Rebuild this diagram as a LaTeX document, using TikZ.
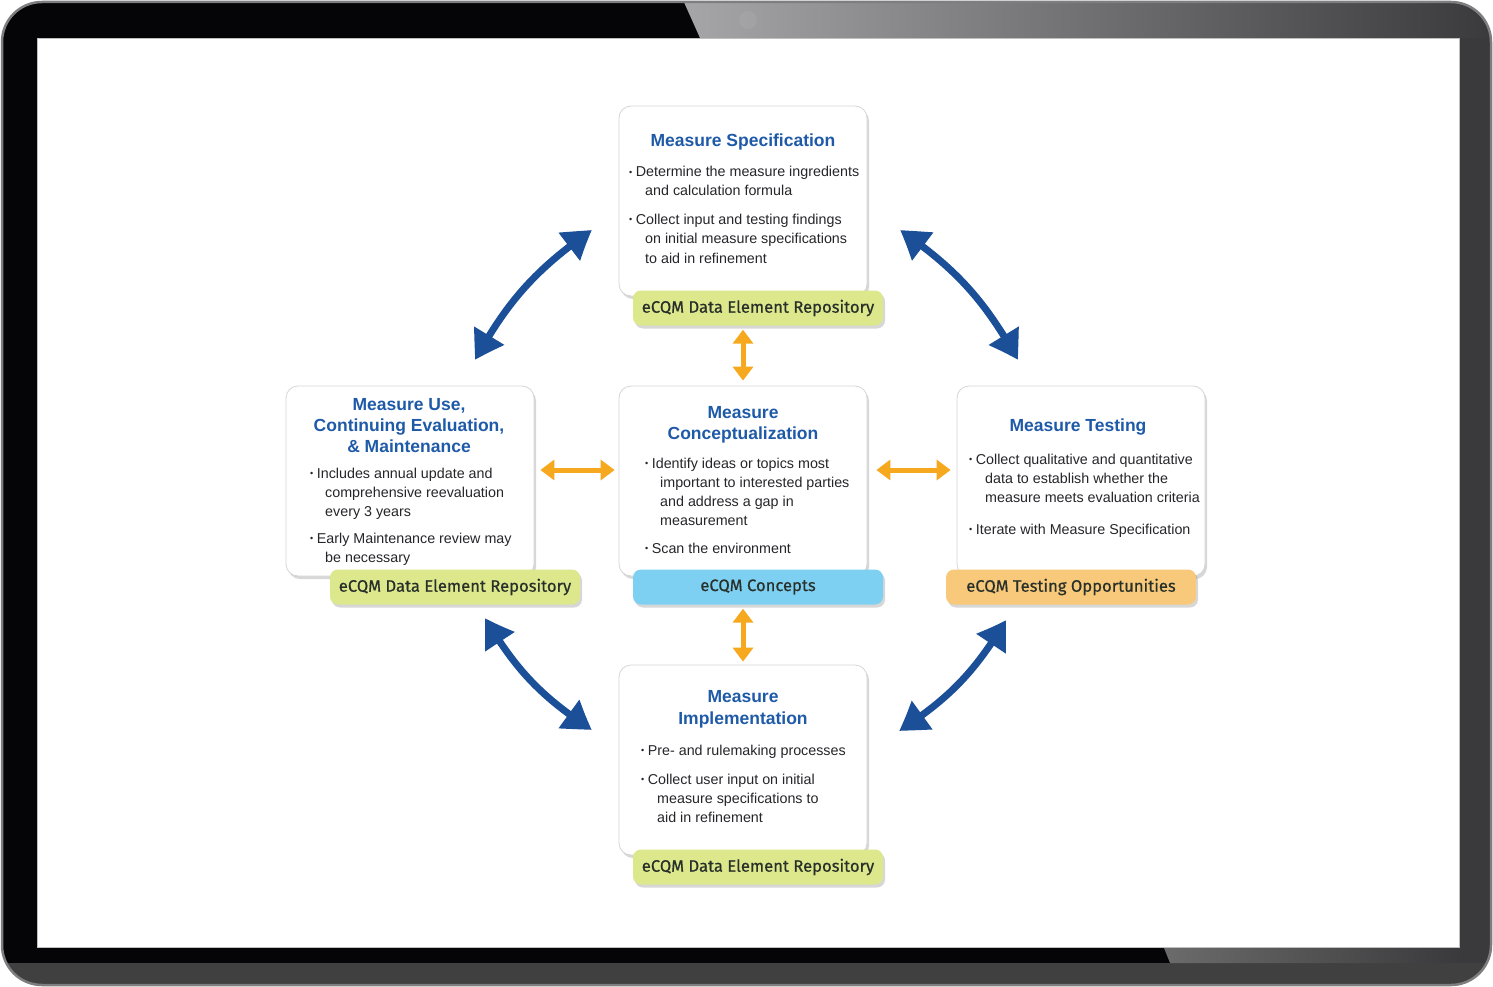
\documentclass[tikz,border=0pt]{standalone}
\usepackage{fontspec}
\setmainfont{Liberation Sans}
\newfontfamily\tagfont{Fira Sans}[FakeBold=0.6]
\usetikzlibrary{arrows.meta,shadows,calc,bending}
\definecolor{titleblue}{HTML}{1E5AA8}
\definecolor{bodytext}{HTML}{26262A}
\definecolor{cardline}{HTML}{D6D6D6}
\definecolor{taggreen}{HTML}{DDE78C}
\definecolor{tagblue}{HTML}{7ED0F3}
\definecolor{tagorange}{HTML}{F8C97A}
\definecolor{tagtext}{HTML}{28302A}
\definecolor{arrowblue}{HTML}{1B4F98}
\definecolor{arroworange}{HTML}{F6A81E}
\definecolor{framedark}{HTML}{050507}
\definecolor{frameright}{HTML}{3A3A3C}
\definecolor{framebottom}{HTML}{404040}
\definecolor{frameedge}{HTML}{7E7E80}
\definecolor{topleft}{HTML}{A6A6A8}
\newcommand\bul{\raisebox{0.15ex}{\fontsize{9}{9}\selectfont •}\hspace{3.5pt}}
\begin{document}
\begin{tikzpicture}[x=1pt,y=-1pt,
  card/.style={draw=cardline, line width=0.8pt, fill=white, rounded corners=12pt,
    minimum width=248pt, minimum height=190pt, inner sep=0pt,
    drop shadow={shadow xshift=2pt, shadow yshift=-3pt, opacity=0.22, fill=black!70}},
  tagbox/.style={rounded corners=8pt, minimum width=250pt, minimum height=35pt, inner sep=0pt,
    font=\tagfont\fontsize{16.6}{19}\selectfont, text=tagtext,
    drop shadow={shadow xshift=2pt, shadow yshift=-3pt, opacity=0.22, fill=black!70}},
  ttl/.style={font=\bfseries\fontsize{17.5}{21}\selectfont, text=titleblue, anchor=base, inner sep=0pt},
  txt/.style={font=\fontsize{14.3}{19}\selectfont, text=bodytext, anchor=base west, inner sep=0pt},
  bluearrow/.style={draw=arrowblue, line width=7pt,
    {Triangle[length=29pt,width=33pt,bend]}-{Triangle[length=29pt,width=33pt,bend]}},
  orangearrow/.style={draw=arroworange, line width=5pt,
    {Triangle[length=14pt,width=20pt]}-{Triangle[length=14pt,width=20pt]}},
]
\useasboundingbox (0,0) rectangle (1493,987);
% ---------- device frame ----------
\begin{scope}
  \clip[rounded corners=40pt] (2,2) rectangle (1491,985);
  \fill[framedark] (0,0) rectangle (1493,987);
  \shade[left color=topleft, right color=frameright] (683,0) -- (1493,0) -- (1493,38) -- (700,38) -- cycle;
  \fill[frameright] (1459,38) rectangle (1493,987);
  \fill[framebottom] (0,963) rectangle (1493,987);
  \shade[left color=black!58, right color=frameright] (1164,948) -- (1459,948) -- (1459,963) -- (1170,963) -- cycle;
  \fill[white, opacity=0.06] (748,20) circle (9);
\end{scope}
\draw[frameedge, line width=2.5pt, rounded corners=40pt] (2,2) rectangle (1491,985);
\fill[white] (37,38) rectangle (1459,947);
\draw[black!25, line width=0.6pt] (37,38) rectangle (1459,947);
% ---------- cards ----------
\node[card] (spec) at (743,201) {};
\node[card] (concept) at (743,481) {};
\node[card] (use) at (410,481) {};
\node[card] (test) at (1081,481) {};
\node[card] (impl) at (743,760) {};
% ---------- tags ----------
\node[tagbox, fill=taggreen] (spectag) at (758,308) {eCQM Data Element Repository};
\node[tagbox, fill=tagblue] (concepttag) at (758,587) {eCQM Concepts};
\node[tagbox, fill=taggreen] (usetag) at (455,587) {eCQM Data Element Repository};
\node[tagbox, fill=tagorange] (testtag) at (1071,587) {eCQM Testing Opportunities};
\node[tagbox, fill=taggreen] (impltag) at (758,867) {eCQM Data Element Repository};
% ---------- Measure Specification ----------
\node[ttl] (specT) at (743,147) {Measure Specification};
\node[txt] (spec1) at (629,177) {\bul Determine the measure ingredients};
\node[txt] (spec2) at (645,196) {and calculation formula};
\node[txt] (spec3) at (629,224) {\bul Collect input and testing findings};
\node[txt] (spec4) at (645,243) {on initial measure specifications};
\node[txt] (spec5) at (645,263) {to aid in refinement};
% ---------- Measure Conceptualization ----------
\node[ttl] (conT1) at (743,418) {Measure};
\node[ttl] (conT2) at (743,439) {Conceptualization};
\node[txt] (con1) at (645,468) {\bul Identify ideas or topics most};
\node[txt] (con2) at (660,487) {important to interested parties};
\node[txt] (con3) at (660,506) {and address a gap in};
\node[txt] (con4) at (660,525) {measurement};
\node[txt] (con5) at (645,553) {\bul Scan the environment};
% ---------- Measure Use ----------
\node[ttl] (useT1) at (409,410) {Measure Use,};
\node[ttl] (useT2) at (409,431) {Continuing Evaluation,};
\node[ttl] (useT3) at (409,452) {\& Maintenance};
\node[txt] (use1) at (310,478) {\bul Includes annual update and};
\node[txt] (use2) at (325,497) {comprehensive reevaluation};
\node[txt] (use3) at (325,516) {every 3 years};
\node[txt] (use4) at (310,543) {\bul Early Maintenance review may};
\node[txt] (use5) at (325,562) {be necessary};
% ---------- Measure Testing ----------
\node[ttl] (testT) at (1078,431) {Measure Testing};
\node[txt] (test1) at (969,464) {\bul Collect qualitative and quantitative};
\node[txt] (test2) at (985,483) {data to establish whether the};
\node[txt] (test3) at (985,502) {measure meets evaluation criteria};
\node[txt] (test4) at (969,534) {\bul Iterate with Measure Specification};
% ---------- Measure Implementation ----------
\node[ttl] (impT1) at (743,702) {Measure};
\node[ttl] (impT2) at (743,724) {Implementation};
\node[txt] (imp1) at (641,755) {\bul Pre- and rulemaking processes};
\node[txt] (imp2) at (641,784) {\bul Collect user input on initial};
\node[txt] (imp3) at (657,803) {measure specifications to};
\node[txt] (imp4) at (657,822) {aid in refinement};
% ---------- orange arrows ----------
\draw[orangearrow, shorten <=4pt, shorten >=5pt] (spectag.south -| spec.south) -- (concept.north);
\draw[orangearrow, shorten <=4pt, shorten >=3pt] (concepttag.south -| concept.south) -- (impl.north);
\draw[orangearrow, shorten <=6pt, shorten >=4pt] ([yshift=11pt]use.east) -- ([yshift=11pt]concept.west);
\draw[orangearrow, shorten <=9pt, shorten >=6pt] ([yshift=11pt]concept.east) -- ([yshift=11pt]test.west);
% ---------- blue arrows ----------
\coordinate (ulA) at (475,360);
\coordinate (ulB) at (592,230);
\coordinate (urA) at (900,230);
\coordinate (urB) at (1018,360);
\coordinate (llA) at (485,618);
\coordinate (llB) at (592,730);
\coordinate (lrA) at (1006,620);
\coordinate (lrB) at (899,731);
\draw[bluearrow] (ulA) to[bend left=13] (ulB);
\draw[bluearrow] (urA) to[bend left=13] (urB);
\draw[bluearrow] (llA) to[bend right=13] (llB);
\draw[bluearrow] (lrA) to[bend left=13] (lrB);
\end{tikzpicture}
\end{document}
